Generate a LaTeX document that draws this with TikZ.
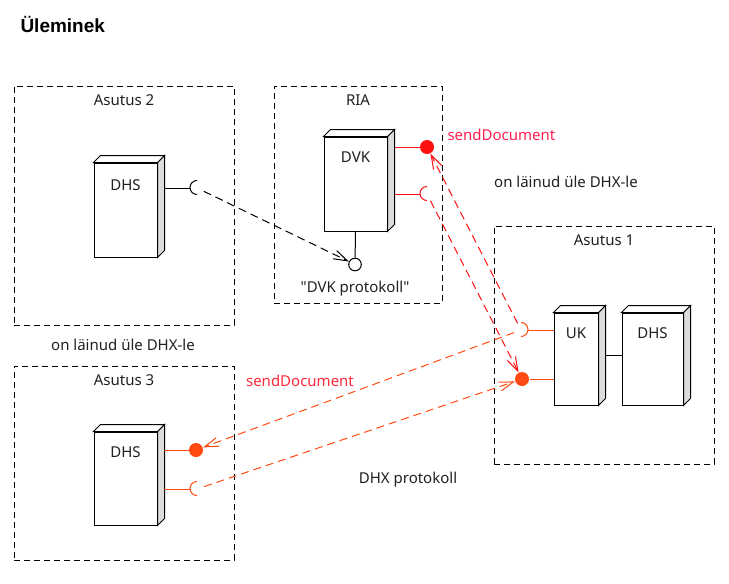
\documentclass[tikz,border=0pt]{standalone}
\usepackage{fontspec}
\setmainfont{Noto Sans}
\newfontfamily\titlefont{Liberation Sans}
\usepackage{tikz}
\usetikzlibrary{arrows.meta,positioning}

\definecolor{portred}{HTML}{FF1010}
\definecolor{portorange}{HTML}{FF4A12}
\definecolor{msgpink}{HTML}{FF2050}
\definecolor{msgred}{HTML}{FF2A3C}
\definecolor{sidegray}{HTML}{DCDCDC}
\definecolor{txt}{HTML}{202020}

\begin{document}
\begin{tikzpicture}[x=1pt,y=1pt,line width=1pt,
		font=\fontsize{15}{18}\selectfont,text=txt,
		>={Straight Barb[length=14pt,width=9pt]}]
		\tikzset{
			frame/.style={draw,dash pattern=on 6pt off 4pt,minimum width=#1,inner sep=0pt},
			device/.style={draw,fill=white,inner sep=0pt},
			tag/.style={inner sep=0pt},
			ball/.style={circle,fill=#1,minimum size=14pt,inner sep=0pt},
			socket/.style={circle,minimum size=14pt,inner sep=0pt},
			lolly/.style={circle,draw,fill=white,minimum size=12.6pt,inner sep=0pt},
			msg/.style={dash pattern=on 8pt off 5pt,->}
		}
		\useasboundingbox (0,0) rectangle (729,-584);
		
		\node[tag,anchor=west,font=\titlefont\fontsize{19}{22}\selectfont\bfseries,text=black] (title) at (20,-24) {Üleminek};
		
		% frames
		\node[frame=220pt,minimum height=239pt] (a2) at (124,-205.5) {};
		\node[frame=168pt,minimum height=217pt] (ria) at (358,-194.5) {};
		\node[frame=220pt,minimum height=238pt] (a1) at (604,-345) {};
		\node[frame=220pt,minimum height=194pt] (a3) at (124,-463) {};
		\node[tag,below=8.5pt of a2.north] {Asutus 2};
		\node[tag,below=8.5pt of ria.north] {RIA};
		\node[tag,below=8.5pt of a1.north] {Asutus 1};
		\node[tag,below=8.5pt of a3.north] {Asutus 3};
		
		% devices
		\node[device,minimum width=63pt,minimum height=94pt] (a2dhs) at (125.5,-210) {};
		\node[device,minimum width=63pt,minimum height=94pt] (dvk) at (355.5,-184) {};
		\node[device,minimum width=44pt,minimum height=92pt] (uk) at (576,-359) {};
		\node[device,minimum width=61pt,minimum height=92pt] (a1dhs) at (652.5,-359) {};
		\node[device,minimum width=63pt,minimum height=93pt] (a3dhs) at (125.5,-478.5) {};
		\foreach \d in {a2dhs,dvk,uk,a1dhs,a3dhs}{
			\draw[fill=sidegray] (\d.north east) -- ++(7,7) -- ([shift={(7,7)}]\d.south east) -- (\d.south east) -- cycle;
			\draw[fill=white] (\d.north west) -- ++(7,7) -- ([shift={(7,7)}]\d.north east) -- (\d.north east) -- cycle;
		}
		\node[tag,below=16.5pt of a2dhs.north] {DHS};
		\node[tag,below=14.5pt of dvk.north] {DVK};
		\node[tag,below=14.5pt of uk.north] {UK};
		\node[tag,below=14.5pt of a1dhs.north] {DHS};
		\node[tag,below=14.5pt of a3dhs.north] {DHS};
		\draw ([shift={(7,3.5)}]uk.east) -- ([yshift=3.5pt]a1dhs.west);
		
		% ports
		\node[socket] (a2sock) at (197,-188) {};
		\node[ball=portred] (dvkball) at (427,-147) {};
		\node[socket] (dvksock) at (427,-194) {};
		\node[lolly] (dvklolly) at (355,-264.5) {};
		\node[socket] (uksock) at (521,-330) {};
		\node[ball=portorange] (ukball) at (522,-379) {};
		\node[ball=portorange] (a3ball) at (196,-450) {};
		\node[socket] (a3sock) at (197,-489) {};
		
		\draw (164,-188) -- ([xshift=-7pt]a2sock.center);
		\draw (a2sock.north) arc[start angle=90,end angle=270,radius=7];
		\draw[portred] (395,-147) -- (dvkball);
		\draw[portred] (395,-194) -- ([xshift=-7pt]dvksock.center);
		\draw[portred] (dvksock.north) arc[start angle=90,end angle=270,radius=7];
		\draw (dvk.south) -- (dvklolly);
		\draw[portorange] (uk.west |- uksock) -- ([xshift=7pt]uksock.center);
		\draw[portorange] (uksock.north) arc[start angle=90,end angle=-90,radius=7];
		\draw[portorange] (uk.west |- ukball) -- (ukball);
		\draw[portorange] (164,-450) -- (a3ball);
		\draw[portorange] (164,-489) -- ([xshift=-7pt]a3sock.center);
		\draw[portorange] (a3sock.north) arc[start angle=90,end angle=270,radius=7];
		\node[tag,below=9.5pt of dvklolly.south] {\textquotedbl DVK protokoll\textquotedbl};
		
		% messages
		\draw[msg] (a2sock) -- (dvklolly);
		\draw[msg,portred] (dvksock) -- (ukball);
		\draw[msg,portred] (uksock) -- (dvkball);
		\draw[msg,portorange] (uksock) -- (a3ball);
		\draw[msg,portorange] (a3sock) -- (ukball);
		
		\node[tag,anchor=west,text=msgpink] (send1) at (447,-135) {sendDocument};
		\node[tag,text=msgred] (send2) at (300,-381) {sendDocument};
		\node[tag] (over1) at (566,-182) {on läinud üle DHX-le};
		\node[tag] (over3) at (123,-345) {on läinud üle DHX-le};
		\node[tag] (dhx) at (408,-480) {DHX protokoll};
	\end{tikzpicture}
\end{document}
